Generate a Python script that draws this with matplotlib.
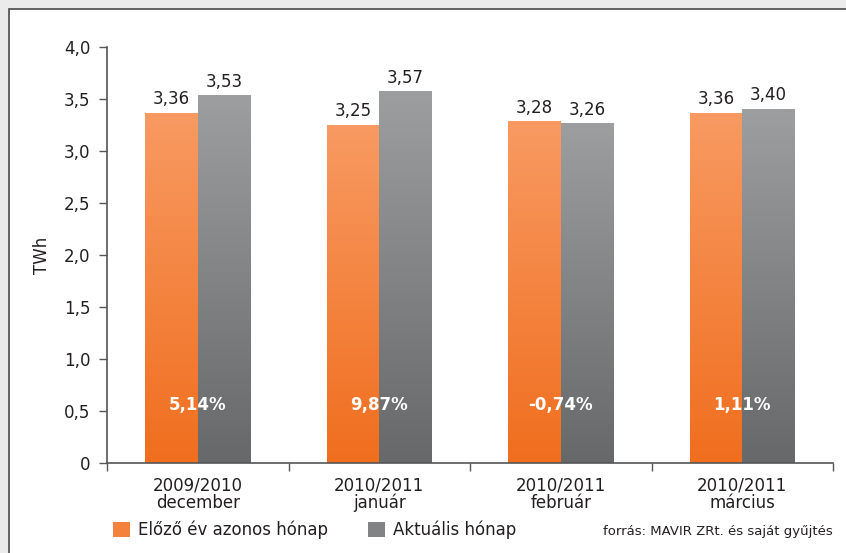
import numpy as np
import matplotlib
matplotlib.use("Agg")
import matplotlib.pyplot as plt
from matplotlib.patches import Rectangle, Patch
from matplotlib.colors import LinearSegmentedColormap

categories = ["2009/2010\ndecember", "2010/2011\njanuár", "2010/2011\nfebruár", "2010/2011\nmárcius"]
prev_year = [3.36, 3.25, 3.28, 3.36]
current = [3.53, 3.57, 3.26, 3.40]
changes = ["5,14%", "9,87%", "-0,74%", "1,11%"]
series_names = ["Előző év azonos hónap", "Aktuális hónap"]
yticks = [0, 0.5, 1.0, 1.5, 2.0, 2.5, 3.0, 3.5, 4.0]

plt.rcParams["font.family"] = ["DejaVu Sans"]

W, H = 846, 553
fig = plt.figure(figsize=(W / 100, H / 100), dpi=100)
fig.patch.set_facecolor("#ebebeb")

# white panel with a thin dark frame
panel = Rectangle((9 / W, -0.05), 1.2, 1 - 9 / H + 0.05, transform=fig.transFigure,
                  facecolor="white", edgecolor="#4a4a4a", linewidth=1.2, zorder=-5)
fig.patches.append(panel)

ax = fig.add_axes([107 / W, 1 - 463 / H, (833 - 107) / W, (463 - 47) / H])
ax.set_facecolor("none")

orange_cmap = LinearSegmentedColormap.from_list("org", ["#f06e1e", "#f89a62"])
gray_cmap = LinearSegmentedColormap.from_list("gry", ["#67686a", "#9d9ea0"])

x = np.arange(len(categories))
bw = 0.29


def gradient_bar(xc, h, cmap):
    ax.bar(xc, h, width=bw, color="none", edgecolor="none", zorder=2)
    grad = np.linspace(0, 1, 256).reshape(-1, 1)
    ax.imshow(grad, cmap=cmap, origin="lower", aspect="auto",
              extent=(xc - bw / 2, xc + bw / 2, 0, h), zorder=1, interpolation="bilinear")


for i in range(len(categories)):
    gradient_bar(x[i] - bw / 2, prev_year[i], orange_cmap)
    gradient_bar(x[i] + bw / 2, current[i], gray_cmap)
    ax.text(x[i] - bw / 2, prev_year[i] + 0.05, f"{prev_year[i]:.2f}".replace(".", ","),
            ha="center", va="bottom", fontsize=12, color="#231f20")
    ax.text(x[i] + bw / 2, current[i] + 0.05, f"{current[i]:.2f}".replace(".", ","),
            ha="center", va="bottom", fontsize=12, color="#231f20")
    ax.text(x[i], 0.56, changes[i], ha="center", va="center", fontsize=12,
            fontweight="bold", color="white", zorder=3)

ax.set_xlim(-0.5, len(categories) - 0.5)
ax.set_ylim(0, 4.0)
ax.set_yticks(yticks)
ax.set_yticklabels([("0" if v == 0 else f"{v:.1f}".replace(".", ",")) for v in yticks],
                   fontsize=12, color="#231f20")
ax.set_xticks(np.arange(-0.5, len(categories), 1.0))
ax.set_xticklabels([])
ax.set_xticks(x, minor=True)
ax.set_xticklabels(categories, minor=True, fontsize=12, color="#231f20", linespacing=0.92)
ax.tick_params(axis="x", which="minor", length=0, pad=10)
ax.tick_params(axis="x", which="major", direction="out", length=6, color="#555555", width=1)
ax.tick_params(axis="y", direction="out", length=6, color="#555555", width=1, pad=6)

for s in ["top", "right"]:
    ax.spines[s].set_visible(False)
for s in ["left", "bottom"]:
    ax.spines[s].set_color("#555555")
    ax.spines[s].set_linewidth(1.2)
ax.spines["bottom"].set_zorder(4)

fig.text(42 / W, 1 - 255 / H, "TWh", rotation=90, ha="center", va="center",
         fontsize=12, color="#231f20")

handles = [Patch(facecolor="#f4813c"), Patch(facecolor="#828385")]
fig.legend(handles, series_names, loc="center left",
           bbox_to_anchor=(98 / W, 1 - 530 / H), ncol=2, frameon=False,
           fontsize=12, handlelength=1.0, handleheight=1.0, handletextpad=0.5,
           columnspacing=2.4, labelcolor="#231f20")

fig.text(833 / W, 1 - 531 / H, "forrás: MAVIR ZRt. és saját gyűjtés", ha="right",
         va="center", fontsize=9.5, color="#231f20")

fig.savefig("out.png", dpi=100, facecolor=fig.get_facecolor())
